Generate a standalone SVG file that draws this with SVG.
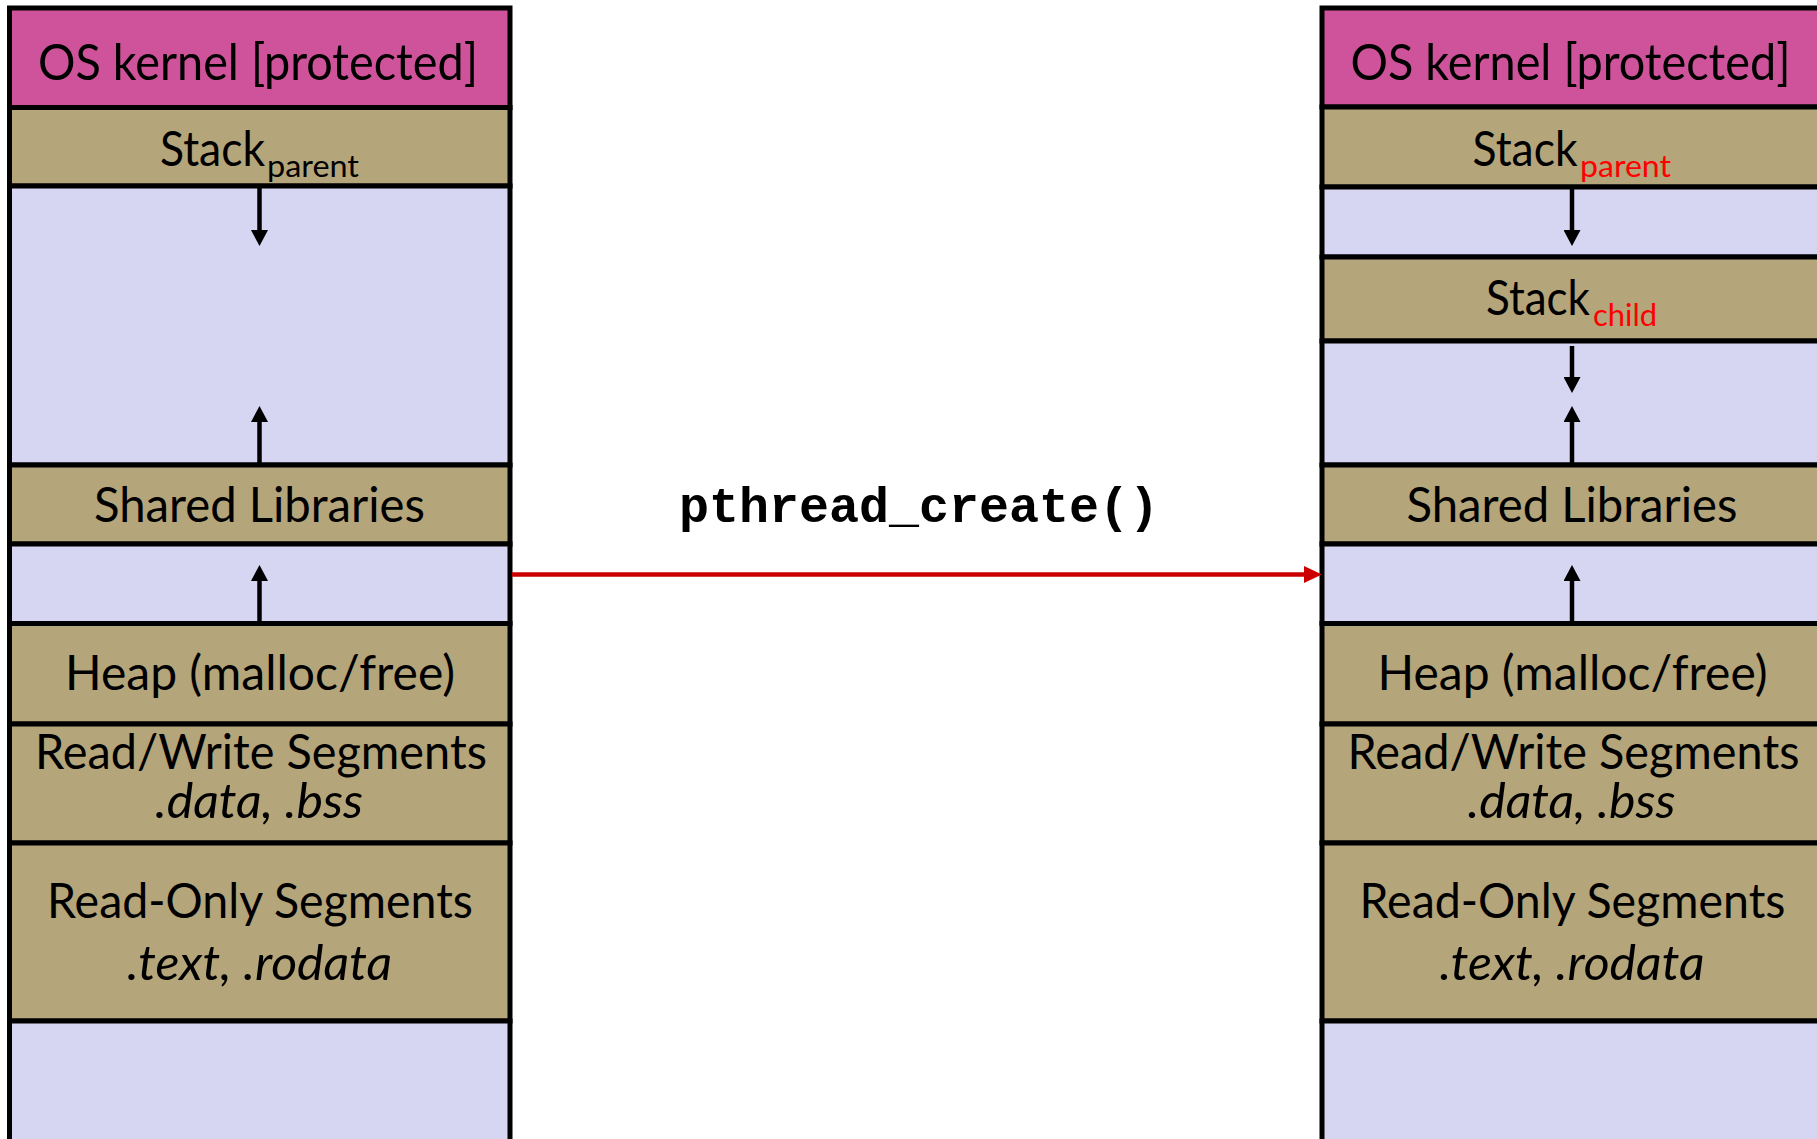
<svg xmlns="http://www.w3.org/2000/svg" width="1817" height="1139" viewBox="0 0 1817 1139">
<style>
.k{fill:#CF539A;stroke:#000;stroke-width:5}
.t{fill:#B5A57A;stroke:#000;stroke-width:5}
.v{fill:#D6D6F3;stroke:#000;stroke-width:5}
.lbl{font-family:Lato,"Liberation Sans",sans-serif;font-size:48px;fill:#000}
.big{font-size:50px}
.it{font-style:italic}
.sub{font-family:Lato,"Liberation Sans",sans-serif;font-size:31px;fill:#000}
.red{fill:#FF0000}
.code{font-family:"Courier New","Nimbus Mono PS","Liberation Mono",monospace;font-weight:bold;font-size:50px;fill:#000}
.ar{stroke:#000;stroke-width:4.5;fill:none;marker-end:url(#ah)}
.rar{stroke:#CC0000;stroke-width:4.5;fill:none;marker-end:url(#rh)}
</style>
<defs>
<marker id="ah" markerUnits="userSpaceOnUse" markerWidth="17" markerHeight="17" refX="0" refY="8.5" orient="auto" viewBox="0 0 17 17">
<path d="M0,0 L16,8.5 L0,17 Z" fill="#000"/>
</marker>
<marker id="rh" markerUnits="userSpaceOnUse" markerWidth="18" markerHeight="17" refX="0" refY="8.5" orient="auto" viewBox="0 0 18 17">
<path d="M0,0 L18,8.5 L0,17 Z" fill="#CC0000"/>
</marker>
</defs>
<rect width="1817" height="1139" fill="#fff"/>

<!-- Left column -->
<g id="left-kernel"><rect class="k" x="9.5" y="8" width="500.5" height="99.5"/><text class="lbl big" x="38" y="80" textLength="440" lengthAdjust="spacingAndGlyphs">OS kernel [protected]</text></g>
<g id="left-stack-parent"><rect class="t" x="9.5" y="107.5" width="500.5" height="78.5"/><text class="lbl" x="160" y="166" textLength="105" lengthAdjust="spacingAndGlyphs">Stack</text><text class="sub" x="267" y="177" textLength="92" lengthAdjust="spacingAndGlyphs">parent</text></g>
<g id="left-gap1"><rect class="v" x="9.5" y="186" width="500.5" height="279"/></g>
<g id="left-shared"><rect class="t" x="9.5" y="465" width="500.5" height="79"/><text class="lbl" x="94" y="522" textLength="331" lengthAdjust="spacingAndGlyphs">Shared Libraries</text></g>
<g id="left-gap2"><rect class="v" x="9.5" y="544" width="500.5" height="79.5"/></g>
<g id="left-heap"><rect class="t" x="9.5" y="623.5" width="500.5" height="100.5"/><text class="lbl" x="65" y="690" textLength="390" lengthAdjust="spacingAndGlyphs">Heap (malloc/free)</text></g>
<g id="left-rw"><rect class="t" x="9.5" y="724" width="500.5" height="119"/><text class="lbl" x="35" y="769" textLength="452" lengthAdjust="spacingAndGlyphs">Read/Write Segments</text><text class="lbl it" x="155" y="818" textLength="208" lengthAdjust="spacingAndGlyphs">.data, .bss</text></g>
<g id="left-ro"><rect class="t" x="9.5" y="843" width="500.5" height="178"/><text class="lbl" x="47" y="918" textLength="426" lengthAdjust="spacingAndGlyphs">Read-Only Segments</text><text class="lbl it" x="127" y="980" textLength="265" lengthAdjust="spacingAndGlyphs">.text, .rodata</text></g>
<g id="left-gap3"><rect class="v" x="9.5" y="1021" width="500.5" height="140"/></g>

<!-- Right column -->
<g id="right-kernel"><rect class="k" x="1322" y="8" width="500.5" height="99"/><text class="lbl big" x="1350.5" y="80" textLength="440" lengthAdjust="spacingAndGlyphs">OS kernel [protected]</text></g>
<g id="right-stack-parent"><rect class="t" x="1322" y="107" width="500.5" height="80"/><text class="lbl" x="1472.5" y="166" textLength="105" lengthAdjust="spacingAndGlyphs">Stack</text><text class="sub red" x="1580" y="177" textLength="91" lengthAdjust="spacingAndGlyphs">parent</text></g>
<g id="right-gap1"><rect class="v" x="1322" y="187" width="500.5" height="70"/></g>
<g id="right-stack-child"><rect class="t" x="1322" y="257" width="500.5" height="84"/><text class="lbl" x="1486" y="315" textLength="104" lengthAdjust="spacingAndGlyphs">Stack</text><text class="sub red" x="1593" y="326" textLength="64" lengthAdjust="spacingAndGlyphs">child</text></g>
<g id="right-gap2"><rect class="v" x="1322" y="341" width="500.5" height="124"/></g>
<g id="right-shared"><rect class="t" x="1322" y="465" width="500.5" height="79"/><text class="lbl" x="1406.5" y="522" textLength="331" lengthAdjust="spacingAndGlyphs">Shared Libraries</text></g>
<g id="right-gap3"><rect class="v" x="1322" y="544" width="500.5" height="79.5"/></g>
<g id="right-heap"><rect class="t" x="1322" y="623.5" width="500.5" height="100.5"/><text class="lbl" x="1377.5" y="690" textLength="390" lengthAdjust="spacingAndGlyphs">Heap (malloc/free)</text></g>
<g id="right-rw"><rect class="t" x="1322" y="724" width="500.5" height="119"/><text class="lbl" x="1347.5" y="769" textLength="452" lengthAdjust="spacingAndGlyphs">Read/Write Segments</text><text class="lbl it" x="1467.5" y="818" textLength="208" lengthAdjust="spacingAndGlyphs">.data, .bss</text></g>
<g id="right-ro"><rect class="t" x="1322" y="843" width="500.5" height="178"/><text class="lbl" x="1359.5" y="918" textLength="426" lengthAdjust="spacingAndGlyphs">Read-Only Segments</text><text class="lbl it" x="1439.5" y="980" textLength="265" lengthAdjust="spacingAndGlyphs">.text, .rodata</text></g>
<g id="right-gap4"><rect class="v" x="1322" y="1021" width="500.5" height="140"/></g>

<g id="label-pthread"><text class="code" x="919" y="522" text-anchor="middle">pthread_create()</text></g>

<g id="connectors">
<line class="ar" x1="259.5" y1="188" x2="259.5" y2="230"/>
<line class="ar" x1="259.5" y1="463" x2="259.5" y2="422"/>
<line class="ar" x1="259.5" y1="621" x2="259.5" y2="581"/>
<line class="ar" x1="1572" y1="189" x2="1572" y2="230"/>
<line class="ar" x1="1572" y1="346" x2="1572" y2="377"/>
<line class="ar" x1="1572" y1="463" x2="1572" y2="422"/>
<line class="ar" x1="1572" y1="621" x2="1572" y2="581"/>
<line class="rar" x1="512" y1="574.5" x2="1304" y2="574.5"/>
</g>
</svg>
